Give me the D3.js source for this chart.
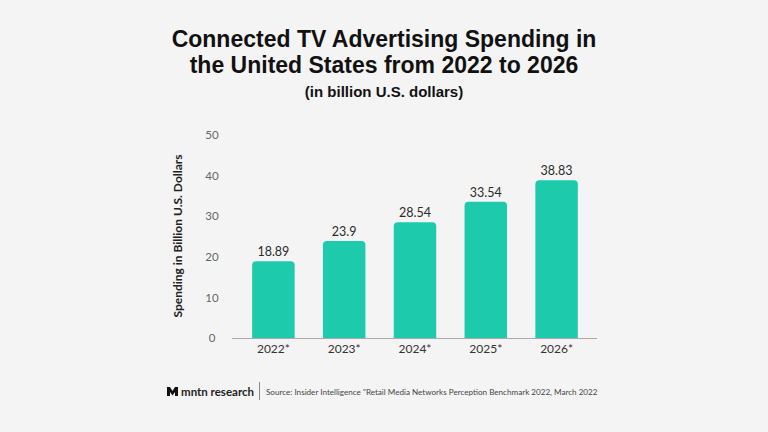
<!DOCTYPE html>
<html><head><meta charset="utf-8">
<script src="https://cdn.jsdelivr.net/npm/d3@7"></script>
<style>body{margin:0;background:#f4f4f4;}svg{display:block;}</style>
</head><body>
<svg id="c" width="768" height="432"></svg>
<script>
const categories = ["2022*", "2023*", "2024*", "2025*", "2026*"];
const values = [18.89, 23.9, 28.54, 33.54, 38.83];
const valueLabels = ["18.89", "23.9", "28.54", "33.54", "38.83"];
const yTicks = [0, 10, 20, 30, 40, 50];

const svg = d3.select("#c");
svg.append("rect").attr("width", 768).attr("height", 432).attr("fill", "#f4f4f4");

const tfont = "'Liberation Sans', Arial, sans-serif";
svg.append("text").attr("x", 384).attr("y", 47).attr("text-anchor", "middle")
  .attr("font-family", tfont).attr("font-weight", 700)
  .attr("font-size", 23).attr("fill", "#111").text("Connected TV Advertising Spending in");
svg.append("text").attr("x", 384).attr("y", 72.5).attr("text-anchor", "middle")
  .attr("font-family", tfont).attr("font-weight", 700)
  .attr("font-size", 23).attr("fill", "#111").text("the United States from 2022 to 2026");
svg.append("text").attr("x", 384).attr("y", 97).attr("text-anchor", "middle")
  .attr("font-family", tfont).attr("font-weight", 700)
  .attr("font-size", 15).attr("fill", "#111").text("(in billion U.S. dollars)");

const x = d3.scaleBand().domain(categories).range([238, 592]).paddingInner(0.4).paddingOuter(0.2);
const y = d3.scaleLinear().domain([0, 50]).range([338, 135]);

// bars with rounded top corners
const r = 4;
svg.selectAll("path.bar").data(values).join("path").attr("class", "bar")
  .attr("fill", "#1dcaab")
  .attr("d", (d, i) => {
    const x0 = x(categories[i]), w = x.bandwidth(), y0 = y(d), yb = y(0);
    return `M${x0},${yb}V${y0 + r}Q${x0},${y0} ${x0 + r},${y0}H${x0 + w - r}Q${x0 + w},${y0} ${x0 + w},${y0 + r}V${yb}Z`;
  });

// baseline
svg.append("line").attr("x1", 232).attr("x2", 597).attr("y1", y(0) + 0.5).attr("y2", y(0) + 0.5)
  .attr("stroke", "#aaa").attr("stroke-width", 1);

const lab = "Lato, 'Open Sans', sans-serif";
// y ticks
const yAxis = svg.append("g").attr("transform", "translate(220,0)")
  .call(d3.axisLeft(y).tickValues(yTicks).tickSize(0).tickPadding(0));
yAxis.select(".domain").remove();
yAxis.selectAll("text").attr("font-family", lab).attr("font-size", 11.5)
  .attr("fill", "#666").attr("text-anchor", "middle").attr("x", -8);

// x ticks
const xAxis = svg.append("g").attr("transform", `translate(0,${y(0)})`)
  .call(d3.axisBottom(x).tickSize(0).tickPadding(6));
xAxis.select(".domain").remove();
xAxis.selectAll("text").attr("font-family", lab).attr("font-size", 12)
  .attr("fill", "#333");

// value labels
svg.selectAll("text.val").data(values).join("text").attr("class", "val")
  .attr("x", (d, i) => x(categories[i]) + x.bandwidth() / 2)
  .attr("y", d => y(d) - 5)
  .attr("text-anchor", "middle").attr("font-family", lab)
  .attr("font-size", 12.5).attr("fill", "#2a2a2a")
  .text((d, i) => valueLabels[i]);

// y axis title
svg.append("text").attr("transform", "translate(182,236) rotate(-90)").attr("text-anchor", "middle")
  .attr("font-family", lab).attr("font-weight", 700)
  .attr("font-size", 12).attr("fill", "#222").text("Spending in Billion U.S. Dollars");

// footer
const logo = svg.append("g").attr("transform", "translate(167,387)");
logo.append("path").attr("d", "M0,9V0H3L5.5,4L8,0H11V9H8V5L5.5,8.5L3,5V9Z").attr("fill", "#111");
svg.append("text").attr("x", 181).attr("y", 395.5).attr("font-family", lab)
  .attr("font-weight", 700).attr("font-size", 11.5).attr("fill", "#222").text("mntn research");
svg.append("line").attr("x1", 259.5).attr("x2", 259.5).attr("y1", 382).attr("y2", 400)
  .attr("stroke", "#888").attr("stroke-width", 1);
svg.append("text").attr("x", 266).attr("y", 394.5).attr("font-family", lab)
  .attr("font-size", 8.1).attr("fill", "#444")
  .text("Source: Insider Intelligence \"Retail Media Networks Perception Benchmark 2022, March 2022");
</script>
</body></html>
